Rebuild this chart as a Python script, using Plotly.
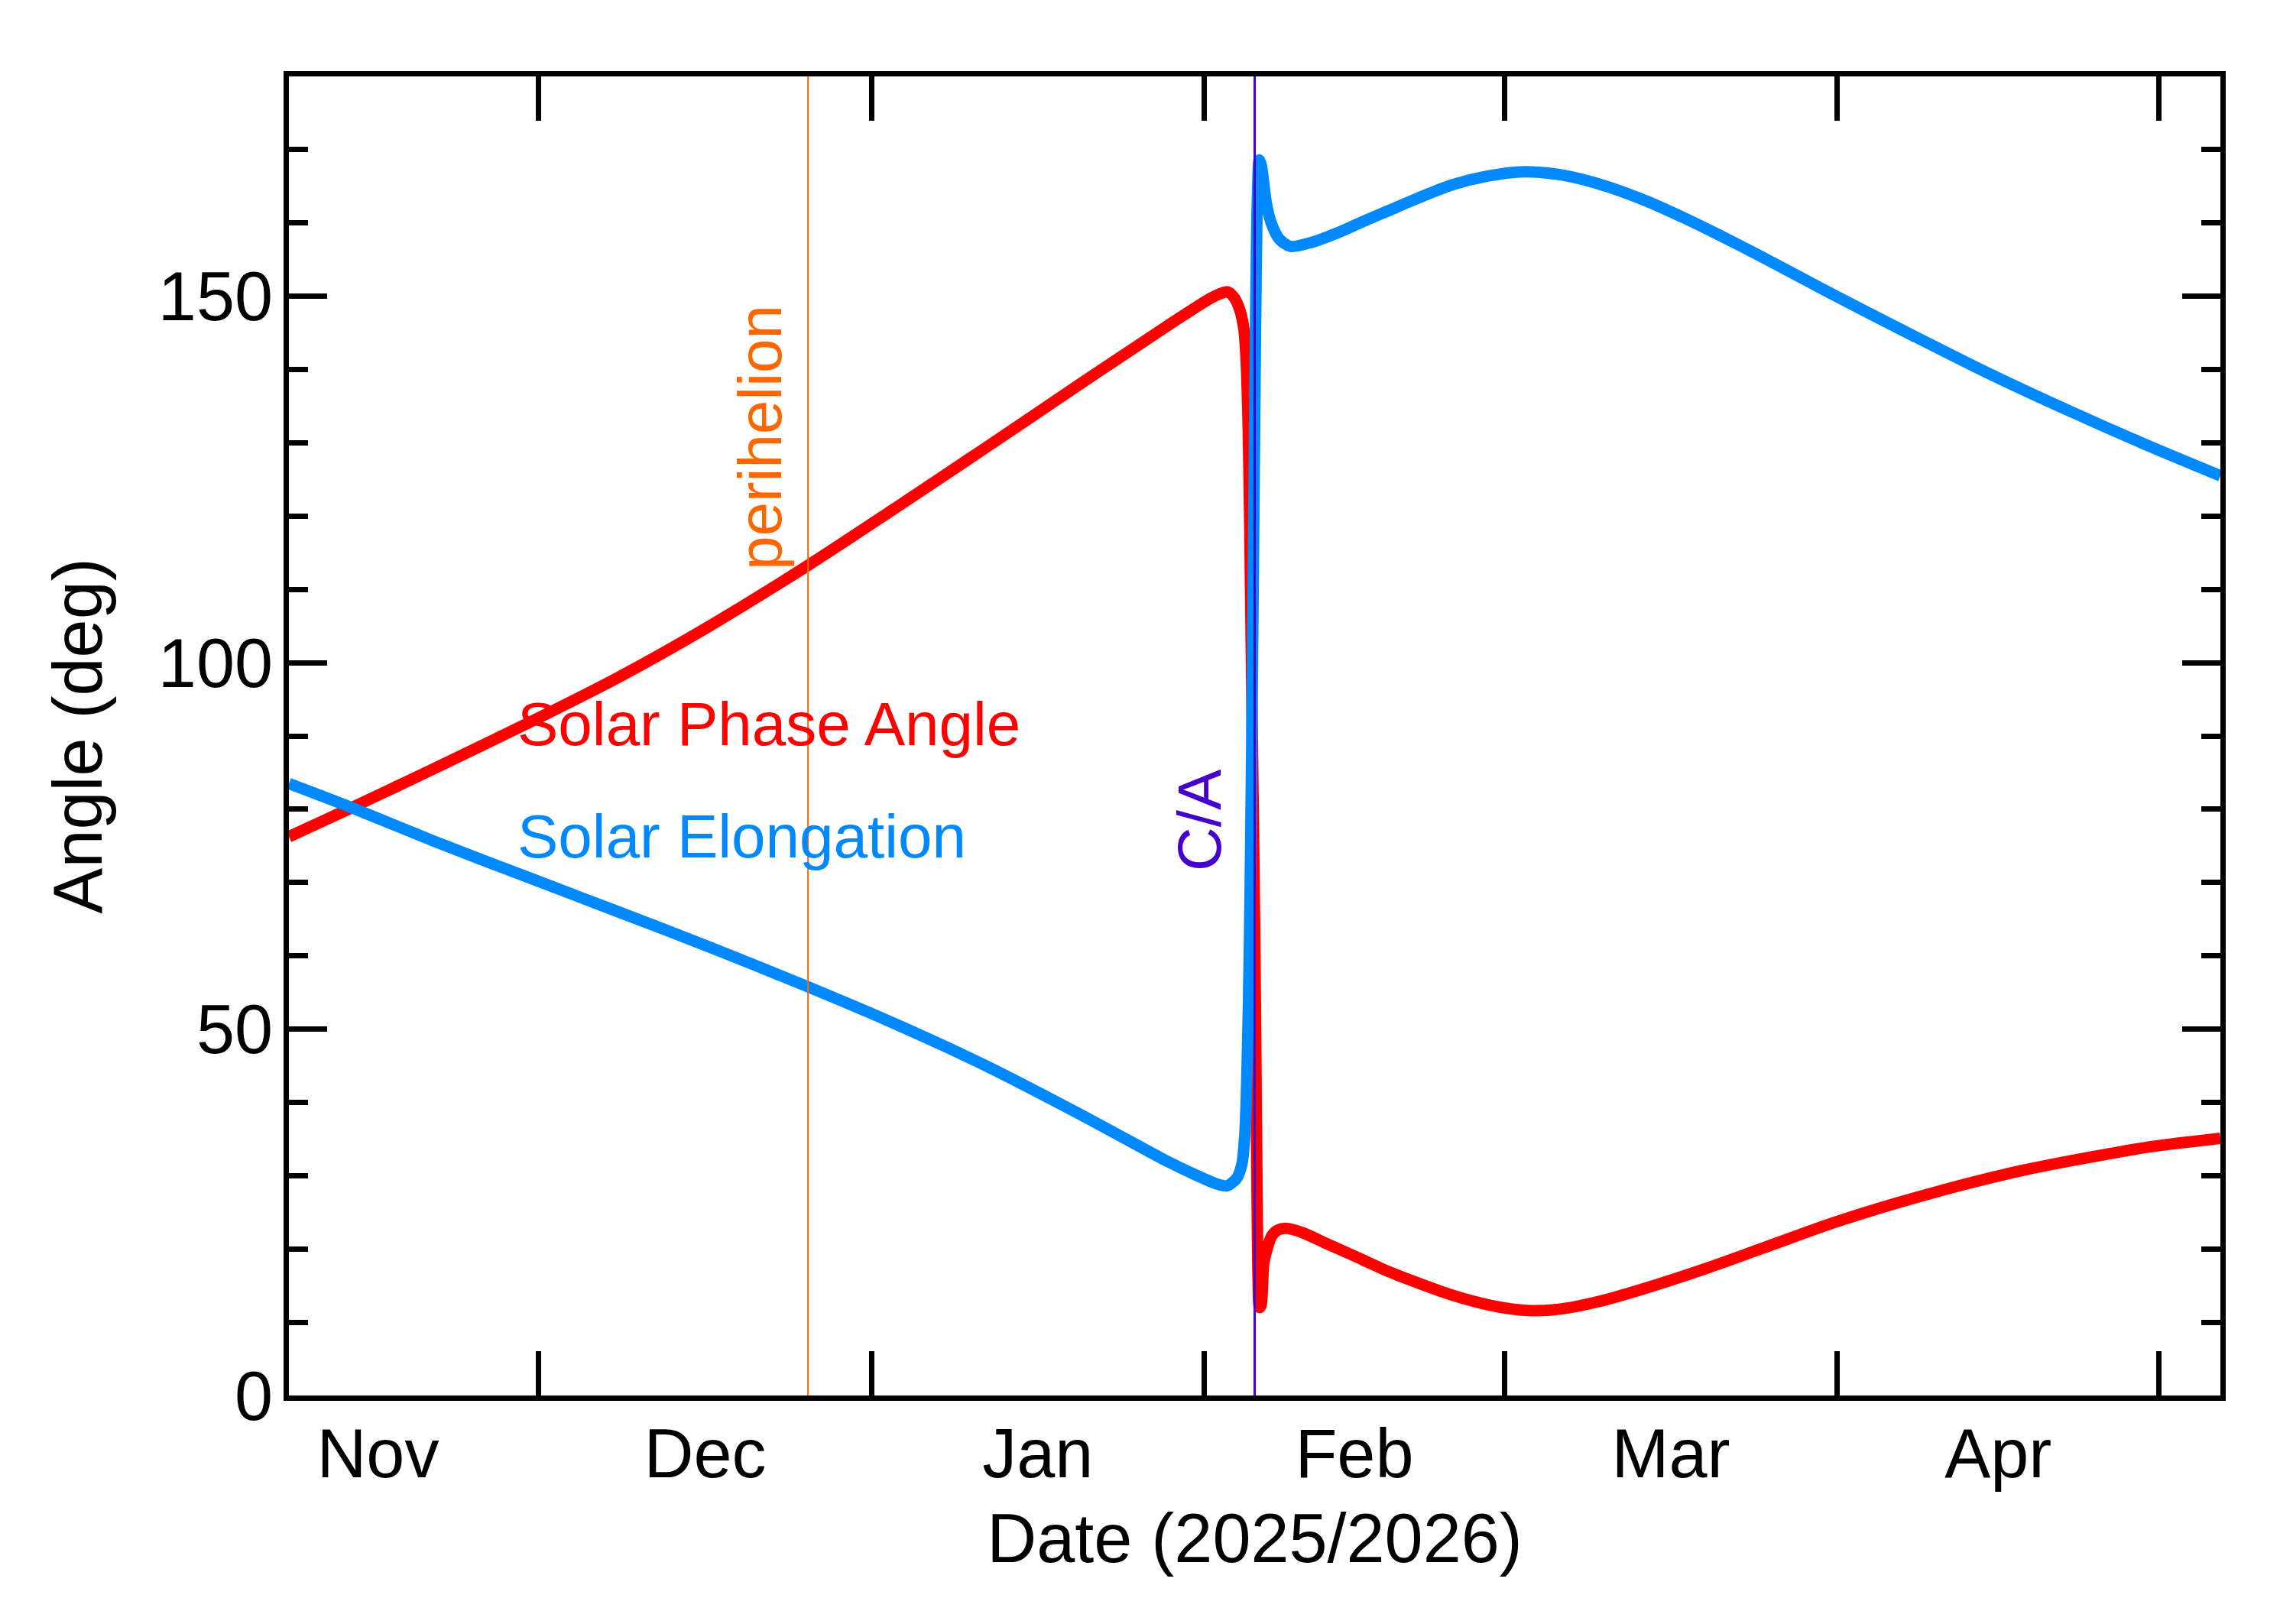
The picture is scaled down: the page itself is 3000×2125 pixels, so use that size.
import pandas as pd
import plotly.graph_objects as go

# times of the two marked events
CA_DATE = "2026-02-05 17:00"
PERIHELION_DATE = "2025-12-26 02:00"

# solar phase angle (deg), sampled as days from close approach
phase_days = [-90, -84.3, -76.4, -67.8, -59.3, -50.8, -41.6, -33.8, -25.2, -16.7,
              -12.0, -8.2, -6.0, -4.5, -3.3, -2.5, -1.9, -1.4, -1.0, -0.8,
              -0.6, -0.45, -0.3, -0.15, 0.0, 0.12, 0.22, 0.32, 0.45, 0.6,
              0.85, 1.2, 1.6, 2.2, 3.0, 4.5, 6.6, 9.5, 12.5, 15.5,
              18.4, 22.0, 25.4, 28.5, 32.0, 36.1, 42.0, 47.9, 53.8, 59.7,
              65.6, 71.5, 77.4, 83.3, 90]
phase_deg = [76.25, 80.1, 85.6, 91.7, 98.0, 105.0, 113.3, 120.8, 129.2, 137.6,
             142.2, 145.9, 148.0, 149.4, 150.3, 150.6, 149.8, 148.2, 145.5, 141.5,
             132.0, 118.0, 100.0, 82.0, 64.0, 45.0, 28.0, 16.0, 12.0, 12.3,
             18.0, 20.2, 21.8, 22.6, 22.8, 22.2, 20.8, 18.9, 16.9, 15.2,
             13.7, 12.3, 11.6, 11.8, 12.8, 14.5, 17.3, 20.4, 23.5, 26.2,
             28.6, 30.7, 32.4, 33.9, 35.1]

# solar elongation (deg)
elong_days = [-90, -84.3, -76.4, -67.8, -59.3, -50.8, -41.6, -33.8, -25.2, -16.7,
              -12.0, -8.2, -5.5, -3.6, -2.6, -1.7, -1.2, -0.9, -0.7, -0.5,
              -0.35, -0.2, -0.05, 0.1, 0.25, 0.43, 0.6, 0.8, 1.1, 1.57,
              2.3, 3.35, 5.4, 7.8, 10.1, 12.5, 14.9, 18.4, 21.7, 25.1,
              28.8, 32.8, 36.5, 40.0, 43.5, 47.1, 50.6, 54.2, 61.4, 68.5,
              75.7, 82.8, 90]
elong_deg = [83.5, 80.3, 75.6, 70.75, 66.0, 61.2, 55.75, 50.9, 45.1, 38.7,
             35.0, 32.0, 30.1, 28.9, 28.6, 29.6, 31.5, 36.0, 45.0, 60.0,
             78.0, 100.0, 125.0, 148.0, 163.0, 168.6, 168.0, 166.0, 162.6, 159.9,
             157.8, 156.8, 157.4, 158.7, 160.2, 161.7, 163.2, 165.2, 166.4, 167.0,
             166.5, 165.0, 163.0, 160.7, 158.2, 155.5, 152.8, 150.0, 144.6, 139.4,
             134.5, 129.9, 125.5]

ca = pd.Timestamp(CA_DATE)
phase_x = ca + pd.to_timedelta(phase_days, unit="D")
elong_x = ca + pd.to_timedelta(elong_days, unit="D")

RED = "#ff0000"
BLUE = "#0088ff"
ORANGE = "#ff6600"
PURPLE = "#4400cc"
FONT = "Liberation Sans, Arial, sans-serif"

fig = go.Figure()
fig.add_trace(go.Scatter(x=phase_x, y=phase_deg, mode="lines",
                         line=dict(color=RED, width=15, shape="spline", smoothing=0.8),
                         name="Solar Phase Angle"))
fig.add_trace(go.Scatter(x=elong_x, y=elong_deg, mode="lines",
                         line=dict(color=BLUE, width=15, shape="spline", smoothing=0.8),
                         name="Solar Elongation"))

# event markers
fig.add_shape(type="line", x0=PERIHELION_DATE, x1=PERIHELION_DATE, y0=0, y1=1,
              yref="paper", line=dict(color=ORANGE, width=2))
fig.add_shape(type="line", x0=CA_DATE, x1=CA_DATE, y0=0, y1=1,
              yref="paper", line=dict(color=PURPLE, width=3))

fig.add_annotation(text="perihelion", xref="paper", yref="paper", x=0.2442, y=0.726,
                   xanchor="center", yanchor="middle",
                   textangle=-90, showarrow=False, font=dict(size=80, color=ORANGE))
fig.add_annotation(text="C/A", xref="paper", yref="paper", x=0.4717, y=0.4363,
                   xanchor="center", yanchor="middle",
                   textangle=-90, showarrow=False, font=dict(size=80, color=PURPLE))
fig.add_annotation(text="Solar Phase Angle", xref="paper", yref="paper", x=0.1175, y=0.5087,
                   xanchor="left", yanchor="middle", showarrow=False,
                   font=dict(size=80, color=RED))
fig.add_annotation(text="Solar Elongation", xref="paper", yref="paper", x=0.1175, y=0.4241,
                   xanchor="left", yanchor="middle", showarrow=False,
                   font=dict(size=80, color=BLUE))

axis_style = dict(showline=True, linecolor="black", linewidth=7, mirror="ticks",
                  ticks="inside", tickcolor="black", tickwidth=7,
                  showgrid=False, zeroline=False,
                  tickfont=dict(size=90, color="black"))

fig.update_xaxes(**axis_style, type="date",
                 range=[ca - pd.Timedelta(days=90), ca + pd.Timedelta(days=90)],
                 dtick="M1", tick0="2025-11-01", tickformat="%b",
                 ticklabelmode="period", ticklen=58, ticklabelstandoff=-8,
                 title=dict(text="Date (2025/2026)", font=dict(size=90), standoff=32))
fig.update_yaxes(**axis_style, range=[0, 180], dtick=50, tick0=0, ticklen=50,
                 ticklabelstandoff=-4,
                 minor=dict(ticks="inside", dtick=10, ticklen=25, tickwidth=7,
                            tickcolor="black", showgrid=False),
                 title=dict(text="Angle (deg)", font=dict(size=90), standoff=46))

# the page body adds an 8px margin, so the figure is trimmed by that much
fig.update_layout(width=2992, height=2117,
                  margin=dict(l=370, r=95, t=92, b=299),
                  plot_bgcolor="white", paper_bgcolor="white",
                  font=dict(family=FONT, color="black"),
                  showlegend=False)

fig.write_html("out.html")
